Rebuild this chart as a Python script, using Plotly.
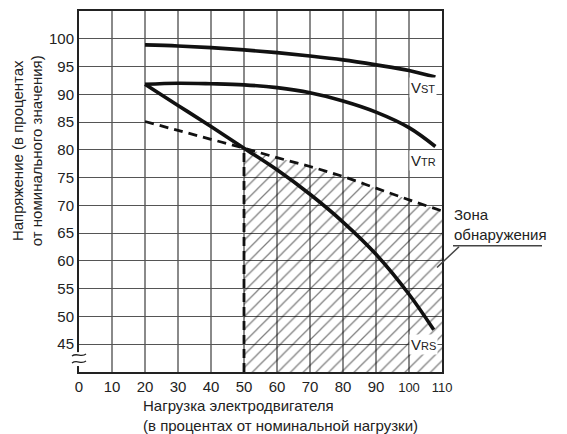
import plotly.graph_objects as go

# ---------------------------------------------------------------------------
# data

load_pts = [20, 30, 40, 50, 60, 70, 80, 90, 100, 108]
v_st = [98.9, 98.7, 98.4, 98.0, 97.5, 96.9, 96.2, 95.3, 94.3, 93.1]
v_tr = [91.8, 92.0, 91.9, 91.7, 91.2, 90.3, 88.8, 86.8, 84.0, 80.6]

load_rs = [20, 30, 40, 50, 60, 70, 80, 90, 100, 107.5]
v_rs = [91.8, 88.0, 84.2, 80.3, 76.4, 72.0, 67.0, 61.2, 54.0, 47.6]

load_bound = [20, 30, 40, 50, 60, 70, 80, 90, 100, 110]
v_bound = [85.1, 83.5, 81.9, 80.3, 78.6, 77.0, 75.2, 73.1, 71.0, 69.0]

zone_start = 50
x_ticks = [0, 10, 20, 30, 40, 50, 60, 70, 80, 90, 100, 110]
y_ticks = [45, 50, 55, 60, 65, 70, 75, 80, 85, 90, 95, 100]
# ---------------------------------------------------------------------------

FONT = "Liberation Sans, Arial, sans-serif"
Y_MIN, Y_MAX = 40, 105

# page offset of the figure (body margin) and plot area in page pixels
OFF = 8
W, H = 567, 434
L, R, T, B = 79, 442, 9, 372


def px(x, y):
  # page pixel -> paper coords
  return (x - L) / (R - L), (B - y) / (B - T)


fig = go.Figure()

# hatched detection zone under the dashed boundary
zx = [x for x in load_bound if x >= zone_start]
zy = [v for x, v in zip(load_bound, v_bound) if x >= zone_start]
fig.add_trace(go.Scatter(
  x=[zone_start] + zx + [zx[-1], zone_start],
  y=[Y_MIN] + zy + [Y_MIN, Y_MIN],
  fill="toself", mode="none",
  fillpattern=dict(shape="/", fgcolor="#000", bgcolor="rgba(0,0,0,0)",
                   size=9, solidity=0.14),
  hoverinfo="skip",
))

# dashed boundary and vertical dashed at 50 %
fig.add_trace(go.Scatter(
  x=load_bound, y=v_bound, mode="lines",
  line=dict(color="#111", width=2.8, dash="9px,6px", shape="spline"),
))
fig.add_trace(go.Scatter(
  x=[zone_start, zone_start],
  y=[Y_MIN, v_bound[load_bound.index(zone_start)]], mode="lines",
  line=dict(color="#111", width=2.8, dash="9px,5px"),
))

# voltage curves
for xs, ys in [(load_pts, v_st), (load_pts, v_tr), (load_rs, v_rs)]:
  fig.add_trace(go.Scatter(
    x=xs, y=ys, mode="lines",
    line=dict(color="#111", width=3.6, shape="spline", smoothing=1.0),
  ))

# curve labels
def vlabel(sub, x, y):
  fig.add_annotation(
    x=x, y=y, xref="x", yref="y", showarrow=False,
    text="V<span style='font-size:11px'>" + sub + "</span>",
    font=dict(family=FONT, size=15, color="#222"),
    bgcolor="white", borderpad=1,
  )

vlabel("ST", 104.3, 91.3)
vlabel("TR", 104.3, 78.0)
vlabel("RS", 104.5, 45.0)

# zone label with underline and leader
ax_, ay_ = px(452, 244)
fig.add_annotation(
  x=ax_, y=ay_, xref="paper", yref="paper", showarrow=False,
  xanchor="left", yanchor="bottom", align="left",
  text="Зона<br>обнаружения",
  font=dict(family=FONT, size=15, color="#222"),
)
x0, y0 = px(453, 245)
x1, y1 = px(542, 245)
fig.add_shape(type="line", xref="paper", yref="paper",
              x0=x0, y0=y0, x1=x1, y1=y1, line=dict(color="#444", width=1.5))
x0, y0 = px(459, 246)
x1, y1 = px(437, 267)
fig.add_shape(type="line", xref="paper", yref="paper",
              x0=x0, y0=y0, x1=x1, y1=y1, line=dict(color="#444", width=1.5))

# axis break marks
gx0, gy0 = px(77, 352)
gx1, gy1 = px(81, 366)
fig.add_shape(type="rect", xref="paper", yref="paper", layer="above",
              x0=gx0, y0=gy1, x1=gx1, y1=gy0,
              line=dict(width=0), fillcolor="white")
for yy in [355, 362]:
  a = px(72, yy + 1)
  c1 = px(77, yy - 3)
  c2 = px(81, yy + 3)
  b = px(86, yy - 1)
  path = "M %f,%f C %f,%f %f,%f %f,%f" % (a + c1 + c2 + b)
  fig.add_shape(type="path", xref="paper", yref="paper", layer="above",
                path=path, line=dict(color="#222", width=1.3))

# axis titles
tx, ty = px(27, 150)
fig.add_annotation(
  x=tx, y=ty, xref="paper", yref="paper", showarrow=False, textangle=-90,
  xanchor="center", yanchor="middle",
  text="Напряжение (в процентах<br>от номинального значения)",
  font=dict(family=FONT, size=15, color="#222"),
)
tx, ty = px(141, 395)
fig.add_annotation(
  x=tx, y=ty, xref="paper", yref="paper", showarrow=False,
  xanchor="left", yanchor="top", align="left",
  text="Нагрузка электродвигателя<br>(в процентах от номинальной нагрузки)",
  font=dict(family=FONT, size=15, color="#222"),
)

x_text = [str(v) if v < 100 else "<span style='font-size:13px'>%d</span>" % v
          for v in x_ticks]

fig.update_xaxes(
  range=[0, 110], tickvals=x_ticks, ticktext=x_text, ticks="",
  showgrid=True, gridcolor="#8a8a8a", gridwidth=1.8,
  showline=True, linecolor="#222", linewidth=2, mirror=True,
  zeroline=False, tickfont=dict(family=FONT, size=15, color="#222"),
)
fig.update_yaxes(
  range=[Y_MIN, Y_MAX], tickvals=y_ticks, ticks="",
  showgrid=True, gridcolor="#555", gridwidth=1.3,
  showline=True, linecolor="#222", linewidth=2, mirror=True,
  zeroline=False, tickfont=dict(family=FONT, size=15, color="#222"),
)

fig.update_layout(
  width=W - OFF, height=H - OFF,
  margin=dict(l=L - OFF, r=W - R, t=T - OFF, b=H - B),
  plot_bgcolor="white", paper_bgcolor="white",
  showlegend=False,
)

fig.write_html("out.html")
